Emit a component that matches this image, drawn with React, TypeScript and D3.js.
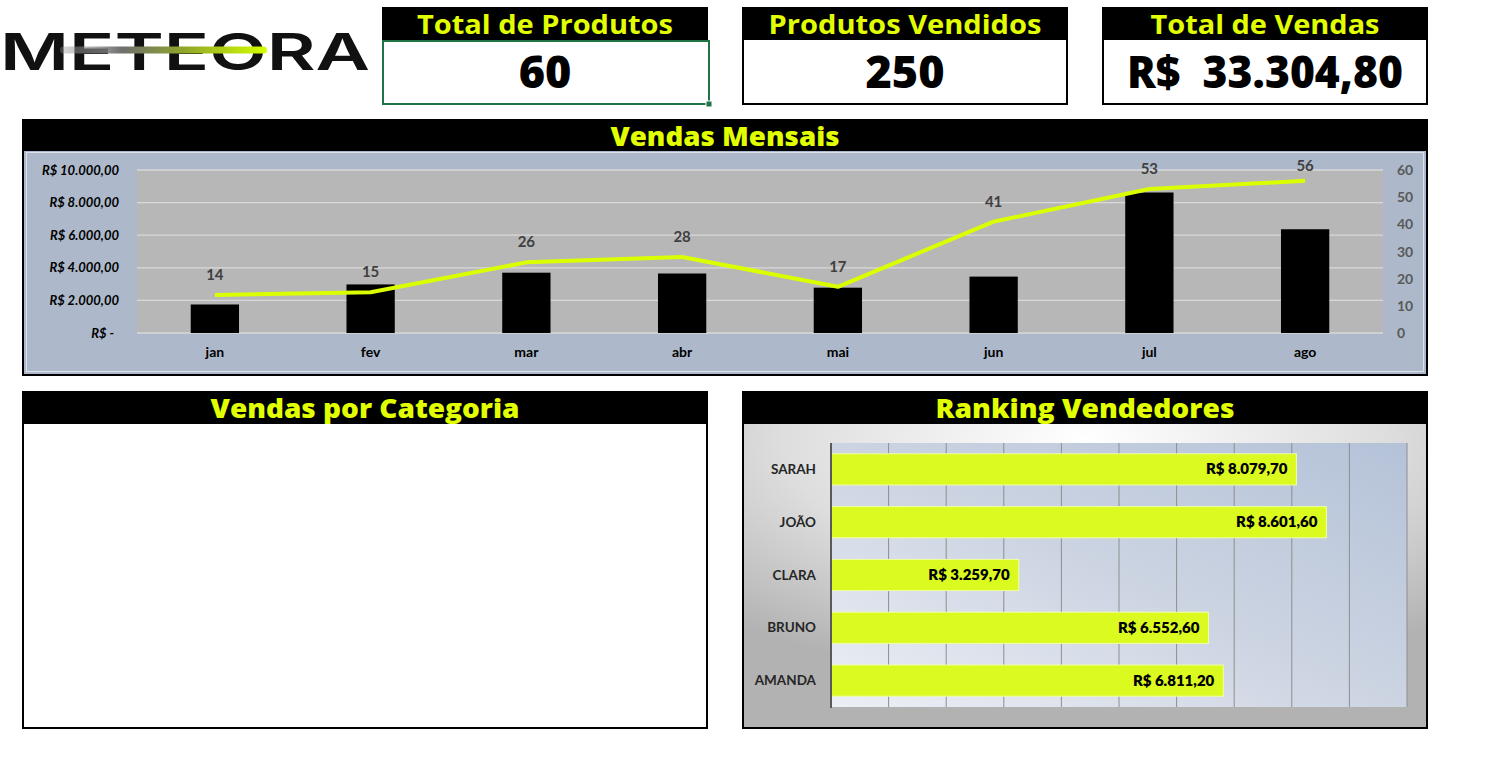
import React from 'react';
import * as d3 from 'd3';

const months = ['jan', 'fev', 'mar', 'abr', 'mai', 'jun', 'jul', 'ago'];
const monthlySales = [1750, 2980, 3700, 3650, 2780, 3460, 8620, 6364.8];
const monthlyUnits = [14, 15, 26, 28, 17, 41, 53, 56];
const salesTicks = [0, 2000, 4000, 6000, 8000, 10000];
const unitTicks = [0, 10, 20, 30, 40, 50, 60];

const sellers = ['SARAH', 'JOÃO', 'CLARA', 'BRUNO', 'AMANDA'];
const sellerSales = [8079.7, 8601.6, 3259.7, 6552.6, 6811.2];
const rankingTicks = [0, 1000, 2000, 3000, 4000, 5000, 6000, 7000, 8000, 9000, 10000];

const kpiTitles = ['Total de Produtos', 'Produtos Vendidos', 'Total de Vendas'];
const kpiValues = ['60', '250', 'R$  33.304,80'];

const panelTitles = ['Vendas Mensais', 'Vendas por Categoria', 'Ranking Vendedores'];

// text widths used to match the reference typography
const kpiTitleWidths = [256, 273, 229];
const panelTitleWidths = [229, 309, 299];

const YELLOW = '#e1ff00';
const LINE = '#dcff00';
const BAR_LIME = '#dbfa20';
const CAL = "Lato, 'Open Sans', sans-serif";
const MONT = "'Open Sans', Inter, sans-serif";

const br = d3.formatLocale({ decimal: ',', thousands: '.', grouping: [3], currency: ['R$ ', ''] });
const fmtMoney = br.format('$,.2f');

export default function App() {
  const x = d3.scaleBand<string>().domain(months).range([137, 1383]).paddingInner(0).paddingOuter(0);
  const ySales = d3.scaleLinear().domain([0, 10000]).range([333, 170]);
  const yUnits = d3.scaleLinear().domain([0, 60]).range([333, 170]);
  const barW = x.bandwidth() * 0.31;
  const cx = (m: string) => (x(m) as number) + x.bandwidth() / 2;
  const linePath = d3
    .line<number>()
    .x((_, i) => cx(months[i]))
    .y((d) => yUnits(d))(monthlyUnits) as string;

  const xr = d3.scaleLinear().domain([0, 10000]).range([831, 1407]);
  const yr = d3.scaleBand<string>().domain(sellers).range([443, 707]).paddingInner(0.41).paddingOuter(0.205);

  const panelTitle = (i: number, xc: number, y: number) => (
    <text
      x={xc}
      y={y}
      textAnchor="middle"
      fontFamily={MONT}
      fontWeight={800}
      fontSize={26}
      fill={YELLOW}
      textLength={panelTitleWidths[i]}
      lengthAdjust="spacingAndGlyphs"
    >
      {panelTitles[i]}
    </text>
  );

  return (
    <div style={{ position: 'absolute', left: 0, top: 0 }}>
      <svg width={1492} height={780} style={{ display: 'block', background: '#ffffff' }}>
        <defs>
          <linearGradient id="logoLine" x1="0" x2="1" y1="0" y2="0">
            <stop offset="0" stopColor="#9a9a9a" stopOpacity="0.35" />
            <stop offset="0.3" stopColor="#6e6e6e" />
            <stop offset="0.6" stopColor="#8fa62a" />
            <stop offset="1" stopColor="#d4ff00" />
          </linearGradient>
          <radialGradient id="rankBg" cx="0.5" cy="0.05" r="0.8" fx="0.5" fy="0.05">
            <stop offset="0" stopColor="#ffffff" />
            <stop offset="0.55" stopColor="#dedede" />
            <stop offset="1" stopColor="#b2b2b2" />
          </radialGradient>
          <linearGradient id="plotBg" x1="0" y1="1" x2="1" y2="0">
            <stop offset="0" stopColor="#eceff5" />
            <stop offset="0.5" stopColor="#ccd4e2" />
            <stop offset="1" stopColor="#b4c2d8" />
          </linearGradient>
        </defs>

        {/* Logo */}
        <text
          x={0}
          y={70}
          textLength={370}
          lengthAdjust="spacingAndGlyphs"
          fontFamily="Inter, 'Open Sans', sans-serif"
          fontWeight={600}
          fontSize={51}
          fill="#111"
        >
          METEORA
        </text>
        <rect x={60} y={46.5} width={207} height={7} rx={3.5} fill="url(#logoLine)" />

        {/* KPI boxes */}
        {kpiTitles.map((t, i) => {
          const x0 = 382 + i * 360;
          return (
            <g key={t}>
              {i === 0 ? (
                <>
                  <rect x={x0} y={7} width={326} height={33} fill="#000" />
                  <rect x={x0 + 1} y={41} width={326} height={63} fill="#fff" stroke="#217346" strokeWidth={2} />
                  <rect x={x0 + 324} y={101} width={6} height={6} fill="#217346" stroke="#fff" strokeWidth={1} />
                </>
              ) : (
                <>
                  <rect x={x0} y={7} width={326} height={98} fill="#000" />
                  <rect x={x0 + 2} y={40} width={322} height={63} fill="#fff" />
                </>
              )}
              <text
                x={x0 + 163}
                y={34}
                textAnchor="middle"
                fontFamily={MONT}
                fontWeight={700}
                fontSize={27}
                fill={YELLOW}
                textLength={kpiTitleWidths[i]}
                lengthAdjust="spacingAndGlyphs"
              >
                {t}
              </text>
              <text
                x={x0 + 163}
                y={88}
                textAnchor="middle"
                fontFamily={MONT}
                fontWeight={800}
                fontSize={45}
                fill="#000"
                style={{ whiteSpace: 'pre' }}
                textLength={i === 2 ? 276 : undefined}
                lengthAdjust="spacingAndGlyphs"
              >
                {kpiValues[i]}
              </text>
            </g>
          );
        })}

        {/* Vendas Mensais panel */}
        <rect x={22} y={119} width={1406} height={257} fill="#000" />
        <rect x={24} y={151} width={1402} height={223} fill="#adb9ca" />
        <rect x={26.5} y={152.5} width={1397} height={219} fill="none" stroke="#dde2ea" strokeWidth={1} />
        {panelTitle(0, 725, 146)}
        <rect x={137} y={170} width={1246} height={163} fill="#b7b7b7" />
        {salesTicks.map((t) => (
          <line key={t} x1={137} x2={1383} y1={ySales(t)} y2={ySales(t)} stroke="#d9d9d9" strokeWidth={1.3} />
        ))}
        {salesTicks.map((t) => (
          <text
            key={'l' + t}
            x={t === 0 ? 114 : 119}
            y={ySales(t) + 4.5}
            textAnchor="end"
            fontFamily={CAL}
            fontWeight={700}
            fontStyle="italic"
            fontSize={13}
            fill="#000"
          >
            {t === 0 ? 'R$ -' : fmtMoney(t)}
          </text>
        ))}
        {unitTicks.map((t) => (
          <text key={'r' + t} x={1397} y={yUnits(t) + 5} fontFamily={CAL} fontWeight={700} fontSize={14} fill="#595959">
            {t}
          </text>
        ))}
        {months.map((m, i) => (
          <rect key={m} x={cx(m) - barW / 2} y={ySales(monthlySales[i])} width={barW} height={333 - ySales(monthlySales[i])} fill="#000" />
        ))}
        <path d={linePath} fill="none" stroke={LINE} strokeWidth={4} strokeLinejoin="round" />
        {months.map((m, i) => (
          <text
            key={'d' + m}
            x={cx(m)}
            y={Math.max(yUnits(monthlyUnits[i]) - 15, 171)}
            textAnchor="middle"
            fontFamily={CAL}
            fontWeight={700}
            fontSize={15}
            fill="#404040"
          >
            {monthlyUnits[i]}
          </text>
        ))}
        {months.map((m) => (
          <text key={'x' + m} x={cx(m)} y={357} textAnchor="middle" fontFamily={CAL} fontWeight={700} fontSize={14} fill="#000">
            {m}
          </text>
        ))}

        {/* Vendas por Categoria panel */}
        <rect x={22} y={391} width={686} height={338} fill="#000" />
        <rect x={24} y={424} width={682} height={303} fill="#fff" />
        {panelTitle(1, 365, 418)}

        {/* Ranking Vendedores panel */}
        <rect x={742} y={391} width={686} height={338} fill="#000" />
        <rect x={744} y={424} width={682} height={303} fill="url(#rankBg)" />
        {panelTitle(2, 1085, 418)}
        <rect x={831} y={443} width={576} height={264} fill="url(#plotBg)" />
        {rankingTicks.slice(1).map((t) => (
          <line key={'g' + t} x1={xr(t)} x2={xr(t)} y1={443} y2={707} stroke="#8e8e8e" strokeWidth={1} />
        ))}
        {sellers.map((s, i) => (
          <g key={s}>
            <rect
              x={xr(0)}
              y={yr(s) as number}
              width={xr(sellerSales[i]) - xr(0)}
              height={yr.bandwidth()}
              fill={BAR_LIME}
              stroke="#f0ffa0"
              strokeWidth={1}
            />
            <text
              x={xr(sellerSales[i]) - 9}
              y={(yr(s) as number) + yr.bandwidth() / 2 + 5}
              textAnchor="end"
              fontFamily={CAL}
              fontWeight={800}
              fontSize={15}
              fill="#000"
            >
              {fmtMoney(sellerSales[i])}
            </text>
            <text
              x={816}
              y={(yr(s) as number) + yr.bandwidth() / 2 + 4.5}
              textAnchor="end"
              fontFamily={CAL}
              fontWeight={700}
              fontSize={13.5}
              fill="#262626"
            >
              {s}
            </text>
          </g>
        ))}
        <line x1={xr(0)} x2={xr(0)} y1={443} y2={708} stroke="#5a5a5a" strokeWidth={2} />
      </svg>
    </div>
  );
}
